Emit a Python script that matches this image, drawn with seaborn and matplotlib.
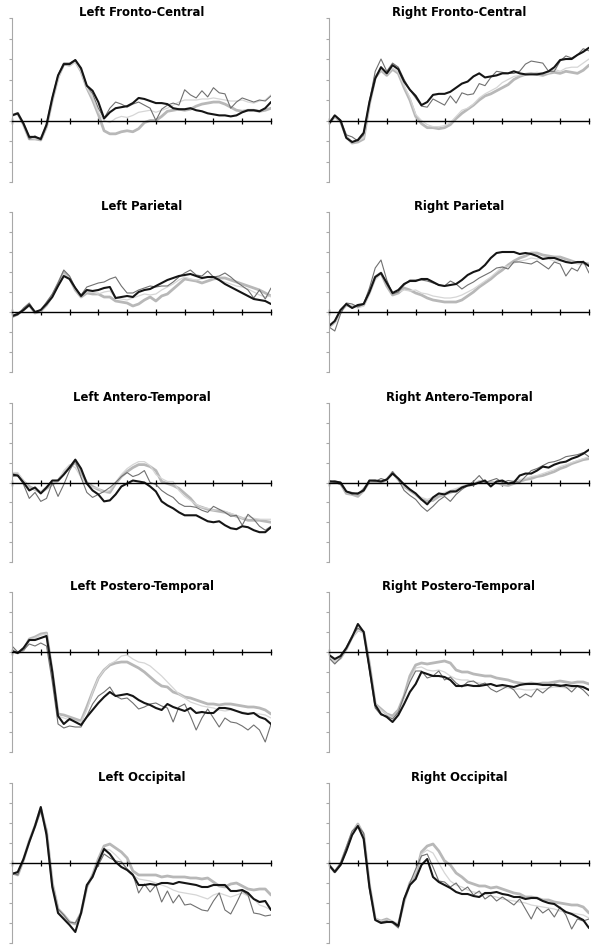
import numpy as np
import matplotlib
matplotlib.use('Agg')
import matplotlib.pyplot as plt
import seaborn as sns

# time axis in ms, one sample every 20 ms
times = np.arange(-100, 801, 20)

# Left Fronto-Central
lfc_black = [0.25, 0.35, -0.15, -0.8, -0.8, -0.9, -0.2, 1.1, 2.2, 2.75,
             2.75, 2.95, 2.55, 1.7, 1.45, 0.9, 0.1, 0.4, 0.6, 0.65,
             0.7, 0.85, 1.1, 1.05, 0.95, 0.85, 0.85, 0.8, 0.6, 0.55,
             0.55, 0.6, 0.5, 0.45, 0.35, 0.3, 0.25, 0.25, 0.2, 0.25,
             0.4, 0.5, 0.5, 0.45, 0.6, 0.9]
lfc_thin_dark = [0.25, 0.35, -0.15, -0.9, -0.75, -0.95, -0.25, 1.1, 2.2, 2.8,
                 2.8, 2.95, 2.5, 1.7, 1.3, 0.6, 0.1, 0.6, 0.9, 0.8,
                 0.65, 0.8, 0.9, 0.75, 0.6, 0.0, 0.55, 0.75, 0.85, 0.75,
                 1.5, 1.25, 1.1, 1.45, 1.15, 1.6, 1.35, 1.3, 0.6, 0.9,
                 1.1, 1.0, 0.9, 1.0, 0.95, 1.2]
lfc_thick_light = [0.25, 0.35, -0.2, -0.9, -0.9, -0.95, -0.3, 1.0, 2.1, 2.75,
                   2.7, 2.9, 2.4, 1.6, 1.0, 0.3, -0.5, -0.65, -0.65, -0.55,
                   -0.5, -0.55, -0.4, -0.1, 0.0, 0.0, 0.2, 0.45, 0.5, 0.55,
                   0.5, 0.55, 0.7, 0.8, 0.85, 0.9, 0.9, 0.8, 0.65, 0.5,
                   0.45, 0.5, 0.5, 0.45, 0.5, 0.6]
lfc_thin_light = [0.25, 0.35, -0.15, -0.85, -0.9, -0.85, -0.25, 1.0, 2.0, 2.75,
                  2.65, 2.85, 2.4, 1.6, 1.1, 0.4, 0.0, -0.1, 0.1, 0.2,
                  0.15, 0.25, 0.4, 0.45, 0.5, 0.4, 0.5, 0.6, 0.75, 0.9,
                  1.0, 1.0, 1.0, 1.05, 1.05, 1.1, 1.05, 1.0, 0.95, 0.95,
                  1.0, 0.9, 0.85, 0.95, 1.0, 1.25]

# Right Fronto-Central
rfc_black = [-0.15, 0.25, 0.0, -0.85, -1.05, -0.95, -0.6, 0.9, 2.05, 2.6,
             2.3, 2.7, 2.5, 1.9, 1.5, 1.2, 0.75, 0.9, 1.25, 1.3,
             1.3, 1.4, 1.6, 1.8, 1.9, 2.15, 2.3, 2.1, 2.15, 2.2,
             2.3, 2.3, 2.4, 2.3, 2.25, 2.25, 2.25, 2.3, 2.4, 2.6,
             2.95, 3.0, 3.0, 3.2, 3.35, 3.55]
rfc_thin_dark = [-0.15, 0.25, 0.0, -0.7, -0.8, -1.0, -0.7, 0.9, 2.4, 3.0,
                 2.4, 2.8, 2.6, 2.0, 1.5, 1.1, 0.7, 0.65, 1.05, 0.9,
                 0.75, 1.2, 0.85, 1.35, 1.25, 1.3, 1.8, 1.7, 2.1, 2.4,
                 2.35, 2.3, 2.3, 2.4, 2.75, 2.9, 2.85, 2.8, 2.4, 2.4,
                 2.9, 3.15, 3.05, 3.2, 3.5, 3.4]
rfc_thick_light = [-0.15, 0.2, -0.05, -0.8, -1.1, -1.05, -0.9, 0.8, 2.1, 2.45,
                   2.2, 2.5, 2.3, 1.6, 1.0, 0.2, -0.15, -0.35, -0.35, -0.4,
                   -0.35, -0.2, 0.1, 0.35, 0.55, 0.75, 1.0, 1.2, 1.3, 1.45,
                   1.6, 1.75, 2.0, 2.15, 2.25, 2.3, 2.25, 2.2, 2.3, 2.35,
                   2.3, 2.4, 2.35, 2.3, 2.45, 2.7]
rfc_thin_light = [-0.15, 0.2, 0.0, -0.75, -1.05, -1.0, -0.85, 0.8, 2.1, 2.5,
                  2.25, 2.55, 2.35, 1.7, 1.1, 0.3, 0.0, -0.2, -0.3, -0.3,
                  -0.25, -0.1, 0.2, 0.5, 0.6, 0.8, 1.1, 1.3, 1.45, 1.6,
                  1.85, 2.0, 2.15, 2.2, 2.3, 2.3, 2.35, 2.3, 2.3, 2.5,
                  2.4, 2.55, 2.6, 2.6, 2.8, 3.0]

# Left Parietal
lp_black = [-0.2, -0.1, 0.1, 0.35, 0.0, 0.1, 0.4, 0.75, 1.3, 1.8,
            1.65, 1.2, 0.8, 1.1, 1.05, 1.1, 1.2, 1.25, 0.7, 0.75,
            0.8, 0.75, 1.0, 1.1, 1.15, 1.3, 1.45, 1.6, 1.7, 1.8,
            1.85, 1.9, 1.8, 1.7, 1.75, 1.75, 1.6, 1.4, 1.25, 1.1,
            0.95, 0.8, 0.65, 0.6, 0.55, 0.4]
lp_thin_dark = [-0.25, -0.15, 0.2, 0.45, 0.0, 0.1, 0.5, 0.9, 1.45, 2.1,
                1.8, 1.2, 0.85, 1.25, 1.35, 1.45, 1.5, 1.65, 1.75, 1.3,
                0.95, 0.95, 1.1, 1.2, 1.3, 1.25, 1.3, 1.3, 1.5, 1.75,
                1.95, 2.1, 1.85, 1.8, 2.05, 1.75, 1.8, 1.95, 1.75, 1.5,
                1.3, 1.1, 0.7, 1.1, 0.65, 1.2]
lp_thick_light = [-0.25, -0.1, 0.1, 0.35, -0.05, 0.05, 0.35, 0.8, 1.4, 2.0,
                  1.7, 1.1, 0.75, 0.95, 0.9, 0.9, 0.75, 0.75, 0.55, 0.5,
                  0.45, 0.3, 0.4, 0.6, 0.75, 0.55, 0.8, 0.9, 1.15, 1.4,
                  1.65, 1.6, 1.55, 1.45, 1.55, 1.65, 1.7, 1.7, 1.6, 1.5,
                  1.4, 1.3, 1.2, 1.1, 0.95, 0.8]
lp_thin_light = [-0.25, -0.15, 0.15, 0.35, 0.0, 0.05, 0.4, 0.8, 1.35, 1.9,
                 1.7, 1.15, 0.8, 1.0, 1.0, 0.9, 1.0, 1.05, 0.7, 0.65,
                 0.6, 0.7, 0.8, 0.9, 0.85, 0.9, 1.1, 1.25, 1.4, 1.6,
                 1.75, 1.65, 1.6, 1.65, 1.75, 1.7, 1.6, 1.5, 1.4, 1.3,
                 1.25, 1.15, 1.0, 0.85, 0.75, 0.8]

# Right Parietal
rp_black = [-0.7, -0.45, 0.1, 0.4, 0.2, 0.35, 0.4, 1.0, 1.75, 1.95,
            1.45, 0.95, 1.1, 1.4, 1.55, 1.55, 1.65, 1.65, 1.5, 1.35,
            1.3, 1.35, 1.4, 1.6, 1.85, 2.0, 2.1, 2.35, 2.7, 2.95,
            3.0, 3.0, 3.0, 2.9, 2.95, 2.9, 2.8, 2.65, 2.7, 2.7,
            2.6, 2.5, 2.45, 2.5, 2.5, 2.3]
rp_thin_dark = [-0.75, -0.95, -0.1, 0.45, 0.4, 0.25, 0.4, 1.2, 2.2, 2.6,
                1.6, 0.9, 1.0, 1.35, 1.6, 1.6, 1.6, 1.55, 1.45, 1.35,
                1.3, 1.55, 1.4, 1.15, 1.35, 1.5, 1.7, 1.85, 2.0, 2.2,
                2.25, 2.15, 2.5, 2.5, 2.45, 2.4, 2.55, 2.35, 2.15, 2.5,
                2.4, 1.8, 2.2, 2.05, 2.55, 1.95]
rp_thick_light = [-0.75, -0.5, 0.05, 0.35, 0.25, 0.3, 0.35, 1.0, 1.75, 1.95,
                  1.3, 0.85, 0.95, 1.2, 1.1, 0.95, 0.85, 0.7, 0.6, 0.55,
                  0.5, 0.5, 0.5, 0.6, 0.8, 1.0, 1.25, 1.45, 1.65, 1.9,
                  2.1, 2.35, 2.55, 2.7, 2.8, 2.95, 2.95, 2.85, 2.8, 2.75,
                  2.75, 2.65, 2.55, 2.45, 2.45, 2.4]
rp_thin_light = [-0.7, -0.55, 0.0, 0.35, 0.3, 0.2, 0.3, 0.85, 1.6, 1.9,
                 1.5, 0.9, 1.0, 1.1, 1.05, 1.1, 0.95, 0.9, 0.8, 0.75,
                 0.7, 0.7, 0.75, 0.85, 1.0, 1.15, 1.35, 1.55, 1.75, 2.0,
                 2.25, 2.3, 2.45, 2.55, 2.6, 2.7, 2.65, 2.7, 2.65, 2.55,
                 2.55, 2.55, 2.5, 2.45, 2.5, 2.35]

# Left Antero-Temporal
lat_black = [0.4, 0.35, 0.0, -0.4, -0.25, -0.55, -0.25, 0.1, 0.1, 0.4,
             0.75, 1.15, 0.7, -0.05, -0.4, -0.6, -0.95, -0.9, -0.6, -0.2,
             -0.05, 0.1, 0.05, 0.0, -0.2, -0.45, -0.95, -1.15, -1.3, -1.5,
             -1.65, -1.65, -1.65, -1.8, -1.95, -2.0, -1.95, -2.15, -2.3, -2.35,
             -2.2, -2.25, -2.4, -2.5, -2.5, -2.25]
lat_thin_dark = [0.3, 0.35, -0.1, -0.8, -0.5, -0.95, -0.8, 0.0, -0.7, -0.1,
                 0.6, 1.1, 0.25, -0.5, -0.75, -0.6, -0.45, -0.25, 0.0, 0.3,
                 0.5, 0.3, 0.4, 0.6, 0.0, -0.1, -0.4, -0.6, -0.75, -1.05,
                 -1.2, -1.2, -1.25, -1.4, -1.5, -1.2, -1.35, -1.5, -1.7, -1.65,
                 -2.15, -1.6, -1.85, -2.2, -2.4, -2.2]
lat_thick_light = [0.45, 0.4, 0.05, -0.2, -0.35, -0.5, -0.3, -0.1, 0.1, 0.45,
                   0.8, 1.0, 0.5, 0.0, -0.2, -0.35, -0.45, -0.5, -0.05, 0.3,
                   0.55, 0.75, 0.9, 0.9, 0.8, 0.6, 0.05, -0.05, -0.15, -0.3,
                   -0.55, -0.8, -1.15, -1.25, -1.35, -1.4, -1.45, -1.5, -1.6, -1.7,
                   -1.8, -1.9, -1.9, -1.9, -1.95, -2.0]
lat_thin_light = [0.5, 0.5, 0.1, -0.3, -0.35, -0.45, -0.2, 0.0, 0.05, 0.6,
                  0.9, 0.75, 0.25, -0.1, -0.25, -0.3, -0.5, -0.4, 0.0, 0.4,
                  0.7, 0.9, 1.05, 1.05, 0.85, 0.4, 0.2, 0.05, 0.05, -0.4,
                  -0.7, -0.9, -1.1, -1.25, -1.3, -1.4, -1.35, -1.45, -1.55, -1.65,
                  -1.8, -1.7, -1.8, -1.85, -1.85, -1.85]

# Right Antero-Temporal
rat_black = [0.05, 0.05, 0.0, -0.45, -0.55, -0.55, -0.4, 0.1, 0.1, 0.05,
             0.15, 0.45, 0.2, -0.1, -0.35, -0.55, -0.85, -1.1, -0.75, -0.55,
             -0.6, -0.45, -0.45, -0.25, -0.15, -0.1, 0.0, 0.1, -0.2, 0.05,
             0.1, -0.05, 0.0, 0.35, 0.45, 0.45, 0.6, 0.8, 0.75, 0.9,
             1.0, 1.05, 1.2, 1.3, 1.45, 1.65]
rat_thin_dark = [0.1, 0.0, -0.1, -0.45, -0.5, -0.6, -0.3, 0.1, 0.05, 0.2,
                 0.1, 0.55, 0.15, -0.4, -0.65, -0.85, -1.2, -1.45, -1.2, -0.9,
                 -0.7, -0.95, -0.6, -0.35, -0.15, 0.05, 0.35, 0.0, 0.1, 0.2,
                 0.0, 0.1, 0.05, 0.0, 0.3, 0.6, 0.7, 0.85, 1.0, 1.05,
                 1.15, 1.3, 1.35, 1.4, 1.5, 1.3]
rat_thick_light = [0.0, 0.05, -0.05, -0.55, -0.6, -0.7, -0.4, 0.05, 0.05, 0.0,
                   0.15, 0.5, 0.15, -0.2, -0.4, -0.6, -0.85, -0.95, -0.9, -0.7,
                   -0.6, -0.5, -0.4, -0.25, -0.15, -0.1, 0.05, 0.0, 0.0, 0.0,
                   -0.1, -0.15, -0.05, 0.05, 0.15, 0.2, 0.3, 0.35, 0.45, 0.55,
                   0.7, 0.8, 0.95, 1.05, 1.15, 1.2]
rat_thin_light = [0.05, 0.05, 0.0, -0.5, -0.55, -0.6, -0.3, 0.1, 0.05, 0.1,
                  0.15, 0.5, 0.1, -0.2, -0.35, -0.6, -0.75, -0.85, -0.75, -0.6,
                  -0.5, -0.4, -0.3, -0.2, -0.1, -0.05, 0.0, 0.05, 0.0, 0.05,
                  -0.05, -0.1, 0.1, 0.15, 0.2, 0.3, 0.35, 0.45, 0.55, 0.65,
                  0.8, 0.9, 1.0, 1.1, 1.2, 1.3]

# Left Postero-Temporal
lpt_black = [0.05, -0.05, 0.2, 0.6, 0.6, 0.7, 0.8, -1.0, -3.2, -3.6,
             -3.35, -3.5, -3.65, -3.25, -2.9, -2.55, -2.25, -2.0, -2.2, -2.15,
             -2.1, -2.2, -2.4, -2.55, -2.65, -2.8, -2.9, -2.6, -2.75, -2.85,
             -2.95, -2.8, -3.05, -3.0, -3.05, -3.05, -2.8, -2.8, -2.85, -2.95,
             -3.05, -3.1, -3.05, -3.25, -3.35, -3.6]
lpt_thin_dark = [0.3, 0.0, 0.1, 0.4, 0.3, 0.45, 0.3, -1.5, -3.6, -3.8,
                 -3.7, -3.75, -3.75, -3.2, -2.6, -2.2, -2.0, -1.75, -2.2, -2.35,
                 -2.3, -2.55, -2.85, -2.75, -2.6, -2.55, -2.7, -2.8, -3.5, -2.75,
                 -2.6, -3.2, -3.9, -3.3, -2.85, -3.3, -3.75, -3.3, -3.5, -3.55,
                 -3.7, -3.9, -3.65, -3.9, -4.5, -3.6]
lpt_thick_light = [0.1, -0.05, 0.1, 0.65, 0.75, 0.9, 0.95, -1.0, -3.1, -3.15,
                   -3.25, -3.35, -3.45, -2.75, -2.0, -1.3, -0.9, -0.65, -0.55, -0.5,
                   -0.5, -0.65, -0.8, -1.0, -1.25, -1.5, -1.7, -1.75, -2.0, -2.1,
                   -2.25, -2.3, -2.4, -2.5, -2.6, -2.6, -2.65, -2.6, -2.6, -2.65,
                   -2.7, -2.75, -2.75, -2.8, -2.9, -3.1]
lpt_thin_light = [0.15, 0.0, 0.1, 0.6, 0.7, 0.85, 0.9, -1.2, -3.2, -3.3,
                  -3.4, -3.45, -3.5, -2.9, -2.0, -1.3, -0.9, -0.6, -0.45, -0.2,
                  -0.15, -0.35, -0.5, -0.55, -0.7, -0.95, -1.2, -1.5, -1.8, -2.1,
                  -2.3, -2.5, -2.6, -2.7, -2.75, -2.8, -2.9, -2.95, -2.9, -2.95,
                  -3.0, -3.05, -3.05, -3.1, -3.15, -3.3]

# Right Postero-Temporal
rpt_black = [-0.15, -0.35, -0.2, 0.2, 0.75, 1.4, 1.0, -0.8, -2.65, -3.1,
             -3.25, -3.5, -3.15, -2.6, -2.0, -1.6, -1.0, -1.1, -1.2, -1.2,
             -1.25, -1.4, -1.7, -1.7, -1.65, -1.7, -1.7, -1.65, -1.6, -1.7,
             -1.65, -1.7, -1.75, -1.65, -1.6, -1.6, -1.6, -1.65, -1.65, -1.65,
             -1.7, -1.65, -1.7, -1.7, -1.75, -1.9]
rpt_thin_dark = [-0.3, -0.6, -0.3, 0.2, 0.8, 1.2, 1.0, -0.9, -2.8, -3.15,
                 -3.2, -3.35, -3.0, -2.2, -1.5, -0.95, -0.95, -1.3, -1.2, -0.95,
                 -1.4, -1.25, -1.55, -1.75, -1.5, -1.45, -1.65, -1.55, -1.85, -2.0,
                 -1.85, -1.7, -1.9, -2.3, -2.1, -2.25, -1.85, -2.05, -1.8, -1.6,
                 -1.65, -1.75, -2.0, -1.7, -1.9, -2.2]
rpt_thick_light = [-0.2, -0.5, -0.3, 0.15, 0.75, 1.1, 1.0, -0.6, -2.6, -2.85,
                   -3.1, -3.2, -2.9, -2.2, -1.2, -0.65, -0.55, -0.6, -0.55, -0.5,
                   -0.45, -0.55, -0.9, -1.0, -1.0, -1.1, -1.15, -1.2, -1.2, -1.3,
                   -1.35, -1.4, -1.5, -1.55, -1.6, -1.55, -1.6, -1.55, -1.55, -1.5,
                   -1.45, -1.5, -1.55, -1.5, -1.5, -1.6]
rpt_thin_light = [-0.2, -0.5, -0.25, 0.2, 0.7, 1.1, 0.95, -0.8, -2.6, -2.9,
                  -3.1, -3.3, -3.0, -2.3, -1.4, -0.8, -0.75, -0.9, -0.95, -0.9,
                  -1.0, -1.2, -1.35, -1.4, -1.4, -1.5, -1.55, -1.6, -1.6, -1.7,
                  -1.75, -1.8, -1.85, -1.85, -1.9, -1.9, -1.85, -1.85, -1.8, -1.75,
                  -1.75, -1.8, -1.8, -1.75, -1.8, -1.85]

# Left Occipital
lo_black = [-0.55, -0.45, 0.2, 1.05, 1.85, 2.8, 1.4, -1.2, -2.5, -2.8,
            -3.1, -3.45, -2.5, -1.1, -0.7, 0.05, 0.7, 0.45, 0.05, -0.2,
            -0.35, -0.6, -1.1, -1.1, -1.05, -1.1, -1.0, -1.0, -1.05, -0.95,
            -1.0, -1.05, -1.1, -1.2, -1.2, -1.1, -1.1, -1.1, -1.4, -1.4,
            -1.35, -1.5, -1.8, -1.95, -1.9, -2.35]
lo_thin_dark = [-0.5, -0.6, 0.15, 1.1, 1.8, 2.6, 1.6, -1.1, -2.3, -2.6,
                -2.95, -3.0, -2.5, -1.2, -0.6, -0.1, 0.45, 0.25, 0.1, 0.05,
                -0.3, -0.55, -1.5, -1.05, -1.45, -1.1, -1.95, -1.4, -2.0, -1.6,
                -2.1, -2.05, -2.2, -2.35, -2.4, -1.9, -1.5, -2.35, -2.55, -2.0,
                -1.4, -1.6, -2.5, -2.55, -2.65, -2.6]
lo_thick_light = [-0.5, -0.6, 0.15, 1.1, 1.85, 2.7, 1.6, -1.0, -2.3, -2.6,
                  -2.95, -3.05, -2.5, -1.2, -0.6, 0.2, 0.85, 0.95, 0.75, 0.55,
                  0.25, -0.4, -0.6, -0.6, -0.6, -0.6, -0.7, -0.65, -0.7, -0.7,
                  -0.7, -0.75, -0.75, -0.8, -0.75, -0.95, -1.15, -1.2, -1.05, -1.0,
                  -1.15, -1.3, -1.35, -1.3, -1.3, -1.6]
lo_thin_light = [-0.5, -0.6, 0.15, 1.1, 1.85, 2.7, 1.5, -1.1, -2.3, -2.6,
                 -2.9, -3.0, -2.5, -1.2, -0.6, -0.05, 0.7, 0.65, 0.4, 0.1,
                 -0.3, -0.6, -0.8, -0.85, -0.9, -1.0, -1.1, -1.2, -1.35, -1.45,
                 -1.5, -1.55, -1.6, -1.7, -1.8, -1.6, -1.5, -1.6, -1.7, -1.6,
                 -1.5, -1.65, -1.8, -2.1, -2.2, -2.35]

# Right Occipital
ro_black = [-0.1, -0.45, -0.1, 0.6, 1.4, 1.85, 1.2, -1.2, -2.85, -3.0,
            -2.95, -2.95, -3.15, -1.8, -1.1, -0.8, -0.1, 0.2, -0.7, -0.95,
            -1.1, -1.25, -1.45, -1.55, -1.55, -1.65, -1.7, -1.5, -1.5, -1.45,
            -1.55, -1.6, -1.7, -1.7, -1.8, -1.75, -1.75, -1.9, -2.0, -2.05,
            -2.25, -2.45, -2.55, -2.7, -2.85, -3.25]
ro_thin_dark = [-0.15, -0.4, 0.0, 0.8, 1.6, 1.85, 1.5, -1.3, -2.85, -2.95,
                -2.9, -3.0, -3.25, -1.8, -1.0, -0.3, 0.35, 0.45, -0.2, -0.9,
                -0.95, -1.2, -1.0, -1.4, -1.2, -1.6, -1.4, -1.8, -1.6, -1.9,
                -1.7, -1.9, -2.1, -1.8, -2.3, -2.8, -2.2, -2.5, -2.3, -2.7,
                -2.2, -2.6, -3.3, -2.8, -2.9, -2.8]
ro_thick_light = [-0.1, -0.45, -0.05, 0.7, 1.5, 1.95, 1.4, -1.1, -2.8, -2.9,
                  -2.8, -2.95, -3.1, -1.9, -1.0, -0.6, 0.55, 0.85, 0.95, 0.6,
                  0.1, -0.1, -0.5, -0.7, -0.95, -1.05, -1.15, -1.15, -1.25, -1.2,
                  -1.3, -1.4, -1.5, -1.55, -1.7, -1.7, -1.75, -1.85, -1.85, -1.95,
                  -2.0, -2.05, -2.1, -2.1, -2.2, -2.5]
ro_thin_light = [-0.1, -0.45, 0.0, 0.75, 1.5, 1.9, 1.4, -1.2, -2.8, -2.9,
                 -2.85, -2.95, -3.1, -1.85, -1.0, -0.45, 0.45, 0.65, 0.5, 0.0,
                 -0.5, -0.9, -1.1, -1.2, -1.35, -1.45, -1.5, -1.55, -1.65, -1.7,
                 -1.8, -1.85, -1.9, -1.95, -2.0, -2.1, -2.15, -2.2, -2.25, -2.3,
                 -2.4, -2.45, -2.5, -2.55, -2.6, -2.75]

titles = ['Left Fronto-Central', 'Right Fronto-Central',
          'Left Parietal', 'Right Parietal',
          'Left Antero-Temporal', 'Right Antero-Temporal',
          'Left Postero-Temporal', 'Right Postero-Temporal',
          'Left Occipital', 'Right Occipital']
y_ranges = [(-3, 5), (-3, 5), (-3, 5), (-3, 5), (-4, 4), (-4, 4),
            (-5, 3), (-5, 3), (-4, 4), (-4, 4)]

# drawing order: thick light, thin light, thin dark, black on top
panel_series = [
    (lfc_thick_light, lfc_thin_light, lfc_thin_dark, lfc_black),
    (rfc_thick_light, rfc_thin_light, rfc_thin_dark, rfc_black),
    (lp_thick_light, lp_thin_light, lp_thin_dark, lp_black),
    (rp_thick_light, rp_thin_light, rp_thin_dark, rp_black),
    (lat_thick_light, lat_thin_light, lat_thin_dark, lat_black),
    (rat_thick_light, rat_thin_light, rat_thin_dark, rat_black),
    (lpt_thick_light, lpt_thin_light, lpt_thin_dark, lpt_black),
    (rpt_thick_light, rpt_thin_light, rpt_thin_dark, rpt_black),
    (lo_thick_light, lo_thin_light, lo_thin_dark, lo_black),
    (ro_thick_light, ro_thin_light, ro_thin_dark, ro_black),
]
line_styles = [('#b8b8b8', 2.0), ('#d6d6d6', 0.9), ('#707070', 0.8), ('#151515', 1.5)]

sns.set_theme(style='white')
plt.rcParams['font.family'] = ['DejaVu Sans']

fig = plt.figure(figsize=(6.01, 9.53), dpi=100)
W, H = 601.0, 953.0
col_px = [(12, 271), (329, 589)]
row_px = [(19, 183), (213, 373), (404, 563), (593, 753), (784, 944)]

for i, title in enumerate(titles):
    row, col = divmod(i, 2)
    x0, x1 = col_px[col]
    y0, y1 = row_px[row]
    ax = fig.add_axes([x0 / W, 1 - y1 / H, (x1 - x0) / W, (y1 - y0) / H])
    for vals, (color, lw) in zip(panel_series[i], line_styles):
        sns.lineplot(x=times, y=vals, ax=ax, color=color, linewidth=lw)
    lo, hi = y_ranges[i]
    ax.set_xlim(-100, 800)
    ax.set_ylim(lo, hi)
    ax.set_xticks(range(-100, 801, 100))
    ax.set_yticks(range(lo, hi + 1))
    ax.set_xlabel('')
    ax.set_ylabel('')
    ax.spines['top'].set_visible(False)
    ax.spines['right'].set_visible(False)
    ax.spines['bottom'].set_position(('data', 0))
    ax.spines['bottom'].set_color('black')
    ax.spines['bottom'].set_linewidth(1.0)
    ax.spines['left'].set_color('#a8a8a8')
    ax.spines['left'].set_linewidth(0.8)
    ax.tick_params(axis='x', bottom=True, direction='inout', length=4,
                   width=0.9, color='black', labelbottom=False)
    ax.tick_params(axis='y', left=True, direction='out', length=2.5,
                   width=0.8, color='#a8a8a8', labelleft=False)
    ax.set_title(title, fontsize=8.4, fontweight='bold', color='black', pad=2.5)

plt.savefig('out.png', dpi=100)
plt.close()
